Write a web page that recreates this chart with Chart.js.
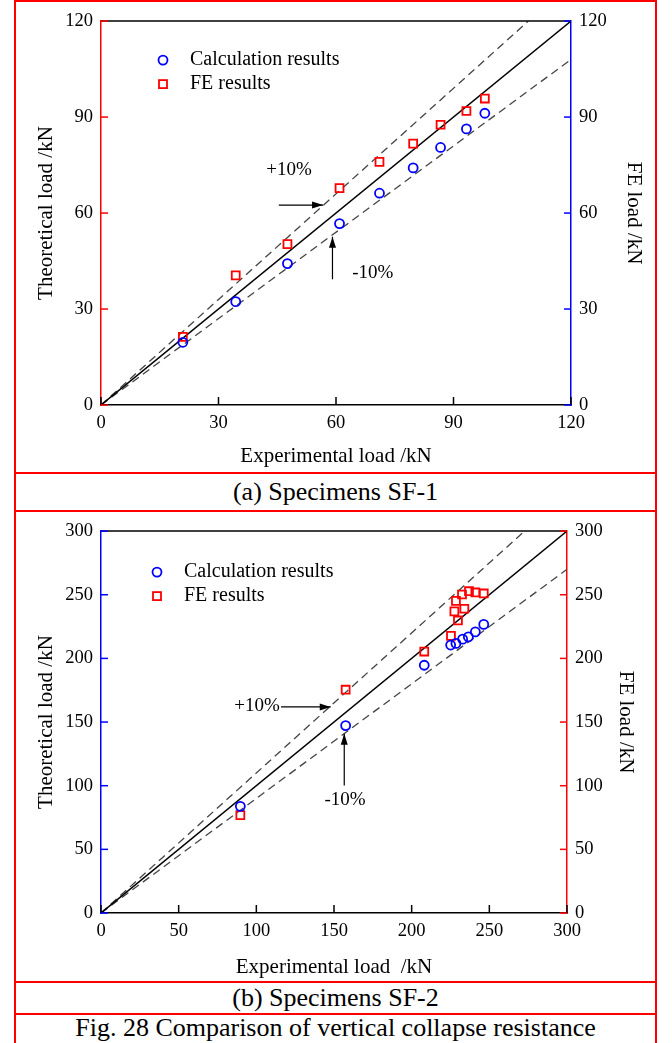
<!DOCTYPE html>
<html>
<head>
<meta charset="utf-8">
<script src="https://cdn.jsdelivr.net/npm/chart.js@4.4.1/dist/chart.umd.min.js"></script>
<style>
  body { margin: 0; background: #fff; width: 672px; height: 1043px; position: relative; overflow: hidden;
         font-family: "Liberation Serif", "Times New Roman", serif; }
  .box { position: absolute; left: 14px; width: 643px; border: 2px solid #f00; box-sizing: border-box; }
  .cap { text-align: center; font-size: 26px; line-height: 1; display: flex; align-items: center; justify-content: center; }
  canvas { position: absolute; left: 16px; }
</style>
</head>
<body>
<div class="box" style="top:0;height:474px"></div>
<div class="box cap" style="top:472px;height:40px">(a) Specimens SF-1</div>
<div class="box" style="top:510px;height:473px"></div>
<div class="box cap" style="top:981px;height:34px">(b) Specimens SF-2</div>
<div class="box cap" style="top:1013px;height:32px;padding-bottom:2px">Fig. 28 Comparison of vertical collapse resistance</div>
<canvas id="sf1" width="639" height="470" style="top:2px"></canvas>
<canvas id="sf2" width="639" height="469" style="top:512px"></canvas>
<script>
// (a) SF-1
const sf1Ticks = [0, 30, 60, 90, 120];
const sf1CalcExp = [20.9, 34.4, 47.6, 60.9, 71.1, 79.7, 86.7, 93.3, 98.0];
const sf1CalcTheory = [19.6, 32.3, 44.2, 56.7, 66.2, 74.1, 80.5, 86.3, 91.2];
const sf1FeExp = [20.9, 34.4, 47.6, 60.9, 71.1, 79.7, 86.7, 93.3, 98.0];
const sf1FeLoad = [21.3, 40.5, 50.3, 67.8, 76.0, 81.7, 87.6, 91.9, 95.8];
// reference lines y = x, y = 1.1x, y = 0.9x (end points)
const sf1EqualX = [0, 120], sf1EqualY = [0, 120];
const sf1PlusX = [0, 109.1], sf1PlusY = [0, 120];
const sf1MinusX = [0, 120], sf1MinusY = [0, 108];

// (b) SF-2
const sf2Ticks = [0, 50, 100, 150, 200, 250, 300];
const sf2CalcExp = [89.7, 157.5, 208.1, 225.1, 228.5, 232.8, 236.5, 241.0, 246.4];
const sf2CalcTheory = [83.8, 147.2, 194.6, 210.5, 211.8, 215.1, 216.9, 220.8, 226.7];
const sf2FeExp = [89.7, 157.5, 208.1, 225.3, 229.8, 227.5, 233.9, 228.5, 232.4, 236.9, 241.0, 246.4];
const sf2FeLoad = [76.9, 175.4, 205.4, 217.7, 229.8, 236.9, 239.0, 245.2, 250.2, 252.8, 251.8, 251.0];
const sf2EqualX = [0, 300], sf2EqualY = [0, 300];
const sf2PlusX = [0, 272.7], sf2PlusY = [0, 300];
const sf2MinusX = [0, 300], sf2MinusY = [0, 270];

const seriesNames = ['Calculation results', 'FE results'];
const BLUE = '#0000ff', RED = '#ff0000';
const SERIF = '"Liberation Serif", "Times New Roman", serif';

Chart.defaults.font.family = SERIF;
Chart.defaults.color = '#000';

const pts = (xs, ys) => xs.map((x, i) => ({ x: x, y: ys[i] }));

function arrow(ctx, x1, y1, x2, y2) {
  const ang = Math.atan2(y2 - y1, x2 - x1);
  ctx.beginPath(); ctx.moveTo(x1, y1); ctx.lineTo(x2, y2); ctx.stroke();
  ctx.beginPath();
  ctx.moveTo(x2, y2);
  ctx.lineTo(x2 - 11 * Math.cos(ang) + 3.5 * Math.sin(ang), y2 - 11 * Math.sin(ang) - 3.5 * Math.cos(ang));
  ctx.lineTo(x2 - 11 * Math.cos(ang) - 3.5 * Math.sin(ang), y2 - 11 * Math.sin(ang) + 3.5 * Math.cos(ang));
  ctx.closePath(); ctx.fill();
}

// frame line, inward ticks, legend and the +/-10% notes
const decor = {
  id: 'decor',
  afterDraw(chart, args, o) {
    const { ctx, chartArea: a, scales } = chart;
    const sx = scales.x, sy = scales.y;
    ctx.save();
    ctx.lineWidth = 1.5;
    ctx.strokeStyle = '#000';
    ctx.beginPath(); ctx.moveTo(a.left, a.top); ctx.lineTo(a.right, a.top); ctx.stroke();

    sx.ticks.forEach((t, i) => {
      const p = sx.getPixelForTick(i);
      ctx.beginPath(); ctx.moveTo(p, a.bottom); ctx.lineTo(p, a.bottom - 8); ctx.stroke();
    });
    ctx.strokeStyle = o.leftColor;
    sy.ticks.forEach((t, i) => {
      const p = sy.getPixelForTick(i);
      ctx.beginPath(); ctx.moveTo(a.left, p); ctx.lineTo(a.left + 7, p); ctx.stroke();
    });
    ctx.strokeStyle = o.rightColor;
    scales.y2.ticks.forEach((t, i) => {
      const p = scales.y2.getPixelForTick(i);
      ctx.beginPath(); ctx.moveTo(a.right, p); ctx.lineTo(a.right - 7, p); ctx.stroke();
    });

    // legend
    const lx = a.left + o.legend.dx, ly = a.top + o.legend.dy;
    ctx.lineWidth = 1.8;
    ctx.strokeStyle = BLUE;
    ctx.beginPath(); ctx.arc(lx, ly, 4.5, 0, Math.PI * 2); ctx.stroke();
    ctx.strokeStyle = RED;
    ctx.strokeRect(lx - 4, ly + 24 - 4, 8, 8);
    ctx.fillStyle = '#000';
    ctx.font = '20px ' + SERIF;
    ctx.textAlign = 'left'; ctx.textBaseline = 'middle';
    ctx.fillText(seriesNames[0], lx + 27, ly);
    ctx.fillText(seriesNames[1], lx + 27, ly + 24);

    // notes
    ctx.strokeStyle = '#000'; ctx.fillStyle = '#000'; ctx.lineWidth = 1.2;
    ctx.font = '19px ' + SERIF;
    ctx.textAlign = 'center';
    o.notes.forEach(n => {
      ctx.fillText(n.text, sx.getPixelForValue(n.at[0]), sy.getPixelForValue(n.at[1]));
      arrow(ctx, sx.getPixelForValue(n.from[0]), sy.getPixelForValue(n.from[1]),
                 sx.getPixelForValue(n.to[0]), sy.getPixelForValue(n.to[1]));
    });
    ctx.restore();
  }
};

function makeChart(id, d) {
  const tickFont = { size: 18.5 };
  const titleFont = { size: 21 };
  const setTicks = s => { s.ticks = d.ticks.map(v => ({ value: v })); };
  const yScale = (pos, color, width, titlePad) => ({
    type: 'linear', position: pos, min: d.ticks[0], max: d.ticks[d.ticks.length - 1],
    afterBuildTicks: setTicks,
    afterFit: s => { s.width = width; },
    grid: { display: false, drawTicks: false },
    border: { display: true, color: color, width: 1.5 },
    ticks: { font: tickFont, padding: 8, color: '#000' },
    title: { display: true, text: pos === 'left' ? 'Theoretical load /kN' : 'FE load /kN',
             font: titleFont, padding: { top: titlePad, bottom: 0 }, color: '#000' }
  });
  return new Chart(document.getElementById(id), {
    type: 'scatter',
    data: {
      datasets: [
        { label: seriesNames[0], data: pts(d.calcX, d.calcY), yAxisID: 'y',
          pointStyle: 'circle', pointRadius: 4.5, borderWidth: 1.8,
          borderColor: BLUE, backgroundColor: 'rgba(0,0,0,0)' },
        { label: seriesNames[1], data: pts(d.feX, d.feY), yAxisID: 'y2',
          pointStyle: 'rect', pointRadius: 5.6, borderWidth: 1.8,
          borderColor: RED, backgroundColor: 'rgba(0,0,0,0)' },
        { data: pts(d.eqX, d.eqY), showLine: true, pointRadius: 0, borderColor: '#000', borderWidth: 1.5 },
        { data: pts(d.plusX, d.plusY), showLine: true, pointRadius: 0, borderColor: '#444', borderWidth: 1.3, borderDash: [8, 5] },
        { data: pts(d.minusX, d.minusY), showLine: true, pointRadius: 0, borderColor: '#444', borderWidth: 1.3, borderDash: [8, 5] }
      ]
    },
    options: {
      responsive: false,
      animation: false,
      devicePixelRatio: 1,
      layout: { padding: { top: d.top, left: 0, right: 0, bottom: 0 } },
      plugins: {
        legend: { display: false },
        tooltip: { enabled: false },
        decor: { leftColor: d.leftColor, rightColor: d.rightColor, legend: d.legend, notes: d.notes }
      },
      scales: {
        x: {
          type: 'linear', min: d.ticks[0], max: d.ticks[d.ticks.length - 1],
          afterBuildTicks: setTicks,
          afterFit: s => { s.height = d.xHeight; },
          grid: { display: false, drawTicks: false },
          border: { display: true, color: '#000', width: 1.5 },
          ticks: { font: tickFont, padding: 7, color: '#000', maxRotation: 0 },
          title: { display: true, text: d.xTitle, font: titleFont, padding: { top: 0, bottom: d.xTitlePad }, color: '#000' }
        },
        y: yScale('left', d.leftColor, 85, 18),
        y2: yScale('right', d.rightColor, d.rightWidth, d.rightTitlePad)
      }
    },
    plugins: [decor]
  });
}

makeChart('sf1', {
  ticks: sf1Ticks,
  calcX: sf1CalcExp, calcY: sf1CalcTheory, feX: sf1FeExp, feY: sf1FeLoad,
  eqX: sf1EqualX, eqY: sf1EqualY, plusX: sf1PlusX, plusY: sf1PlusY, minusX: sf1MinusX, minusY: sf1MinusY,
  leftColor: RED, rightColor: BLUE,
  top: 15, rightWidth: 84, rightTitlePad: 9, xHeight: 67, xTitlePad: 3,
  xTitle: 'Experimental load /kN',
  legend: { dx: 62, dy: 39 },
  notes: [
    { text: '+10%', at: [48.0, 73.3], from: [45.4, 62.5], to: [56.7, 62.5] },
    { text: '-10%', at: [69.4, 41.4], from: [59.1, 39.3], to: [59.1, 52.6] }
  ]
});

makeChart('sf2', {
  ticks: sf2Ticks,
  calcX: sf2CalcExp, calcY: sf2CalcTheory, feX: sf2FeExp, feY: sf2FeLoad,
  eqX: sf2EqualX, eqY: sf2EqualY, plusX: sf2PlusX, plusY: sf2PlusY, minusX: sf2MinusX, minusY: sf2MinusY,
  leftColor: BLUE, rightColor: RED,
  top: 11, rightWidth: 88, rightTitlePad: 17, xHeight: 68, xTitlePad: 1,
  xTitle: 'Experimental load  /kN',
  legend: { dx: 56, dy: 41 },
  notes: [
    { text: '+10%', at: [100.4, 162.5], from: [115.9, 161.9], to: [147.9, 161.9] },
    { text: '-10%', at: [157.1, 88.5], from: [156.6, 100.2], to: [156.6, 140.8] }
  ]
});
</script>
</body>
</html>
